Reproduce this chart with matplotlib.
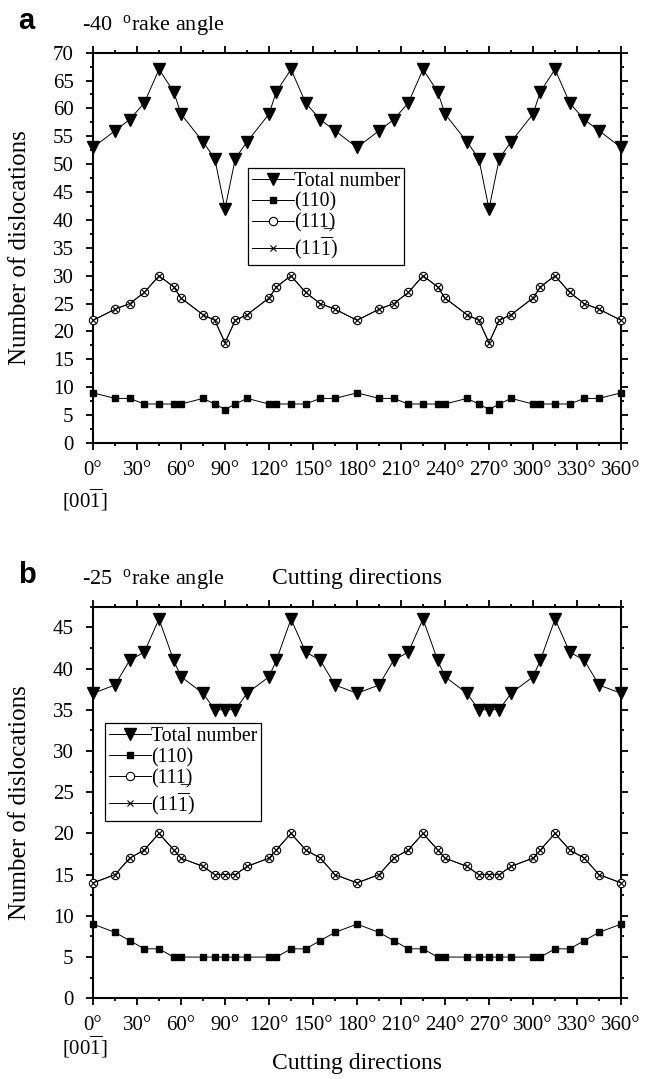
import matplotlib
matplotlib.use("Agg")
import matplotlib.pyplot as plt
from matplotlib.ticker import MultipleLocator

plt.rcParams['font.family'] = ['Liberation Serif', 'DejaVu Serif']
plt.rcParams['mathtext.fontset'] = 'custom'
plt.rcParams['mathtext.rm'] = 'Liberation Serif'
plt.rcParams['mathtext.it'] = 'Liberation Serif:italic'

# cutting directions (deg)
angles = [0, 15, 25, 35, 45, 55, 60, 75, 83, 90, 97, 105, 120, 125, 135, 145, 155, 165,
          180, 195, 205, 215, 225, 235, 240, 255, 263, 270, 277, 285, 300, 305, 315, 325,
          335, 345, 360]

# panel a: -40 deg rake angle
total_a = [53, 56, 58, 61, 67, 63, 59, 54, 51, 42, 51, 54, 59, 63, 67, 61, 58, 56,
           53, 56, 58, 61, 67, 63, 59, 54, 51, 42, 51, 54, 59, 63, 67, 61, 58, 56, 53]
d110_a = [9, 8, 8, 7, 7, 7, 7, 8, 7, 6, 7, 8, 7, 7, 7, 7, 8, 8,
          9, 8, 8, 7, 7, 7, 7, 8, 7, 6, 7, 8, 7, 7, 7, 7, 8, 8, 9]
d111_a = [22, 24, 25, 27, 30, 28, 26, 23, 22, 18, 22, 23, 26, 28, 30, 27, 25, 24,
          22, 24, 25, 27, 30, 28, 26, 23, 22, 18, 22, 23, 26, 28, 30, 27, 25, 24, 22]
d11b_a = list(d111_a)

# panel b: -25 deg rake angle
total_b = [37, 38, 41, 42, 46, 41, 39, 37, 35, 35, 35, 37, 39, 41, 46, 42, 41, 38,
           37, 38, 41, 42, 46, 41, 39, 37, 35, 35, 35, 37, 39, 41, 46, 42, 41, 38, 37]
d110_b = [9, 8, 7, 6, 6, 5, 5, 5, 5, 5, 5, 5, 5, 5, 6, 6, 7, 8,
          9, 8, 7, 6, 6, 5, 5, 5, 5, 5, 5, 5, 5, 5, 6, 6, 7, 8, 9]
d111_b = [14, 15, 17, 18, 20, 18, 17, 16, 15, 15, 15, 16, 17, 18, 20, 18, 17, 15,
          14, 15, 17, 18, 20, 18, 17, 16, 15, 15, 15, 16, 17, 18, 20, 18, 17, 15, 14]
d11b_b = list(d111_b)

labels = ['Total number', '(110)', '(111\u0332)', r'(11$\overline{\rm 1}$)']
xticks = list(range(0, 361, 30))
xticklabels = [f"{t}\u00b0" for t in xticks]

fig = plt.figure(figsize=(6.61, 10.79), dpi=100)


def draw_panel(ax, total, d110, d111, d11b, ymax, leg_pos, letter, title, xlab_y, idx_y):
    ax.plot(angles, total, color='black', lw=0.7, marker='v', ms=9, mfc='black', mec='black',
            label=labels[0], clip_on=False, zorder=4)
    ax.plot(angles, d110, color='black', lw=0.7, marker='s', ms=5, mfc='black', mec='black',
            label=labels[1], clip_on=False, zorder=4)
    ax.plot(angles, d111, color='black', lw=0.7, marker='o', ms=6, mfc='white', mec='black',
            mew=0.8, label=labels[2], clip_on=False, zorder=4)
    ax.plot(angles, d11b, color='black', lw=0.7, marker='x', ms=4.5, mec='black',
            mew=0.8, label=labels[3], clip_on=False, zorder=5)

    ax.set_xlim(0, 360)
    ax.set_ylim(0, ymax)
    ax.set_xticks(xticks)
    ax.set_xticklabels(xticklabels)
    ax.xaxis.set_minor_locator(MultipleLocator(15))
    ax.yaxis.set_major_locator(MultipleLocator(5))
    ax.yaxis.set_minor_locator(MultipleLocator(2.5))
    ax.tick_params(which='both', direction='out', top=True, right=True, width=1.3,
                   labelsize=15)
    ax.tick_params(which='major', length=5, pad=8)
    ax.tick_params(which='minor', length=2.5)
    ax.tick_params(axis='y', pad=9)
    for s in ax.spines.values():
        s.set_linewidth(1.5)

    ax.set_ylabel('Number of dislocations', fontsize=18)
    ax.yaxis.set_label_coords(-0.118, 0.5)
    ax.set_xlabel('Cutting directions', fontsize=17)
    ax.xaxis.set_label_coords(0.5, xlab_y)
    ax.text(-0.015, idx_y, r'[00$\overline{\rm 1}$]', transform=ax.transAxes,
            fontsize=15, ha='center', va='center')

    leg = ax.legend(loc='upper left', bbox_to_anchor=leg_pos, fontsize=14.3,
                    handlelength=2.1, handletextpad=0.0, borderpad=0.2,
                    labelspacing=0.08, borderaxespad=0, fancybox=False,
                    framealpha=1, edgecolor='black')
    leg.get_frame().set_linewidth(0.9)

    ax.text(-0.142, 1.08, letter, transform=ax.transAxes, fontsize=21,
            fontweight='bold', family='Liberation Sans', va='center')
    ax.text(-0.02, 1.07, title, transform=ax.transAxes, fontsize=16, va='center')


ax1 = fig.add_axes([0.1407, 0.5894, 0.7988, 0.3618])
draw_panel(ax1, total_a, d110_a, d111_a, d11b_a, 70, (0.294, 0.705), 'a',
           r'-40  $^{\rm o}$rake angle', -0.32, -0.146)

ax2 = fig.add_axes([0.1407, 0.0748, 0.7988, 0.3629])
draw_panel(ax2, total_b, d110_b, d111_b, d11b_b, 47.5, (0.023, 0.702), 'b',
           r'-25  $^{\rm o}$rake angle', -0.14, -0.124)

fig.savefig('out.png', dpi=100)
